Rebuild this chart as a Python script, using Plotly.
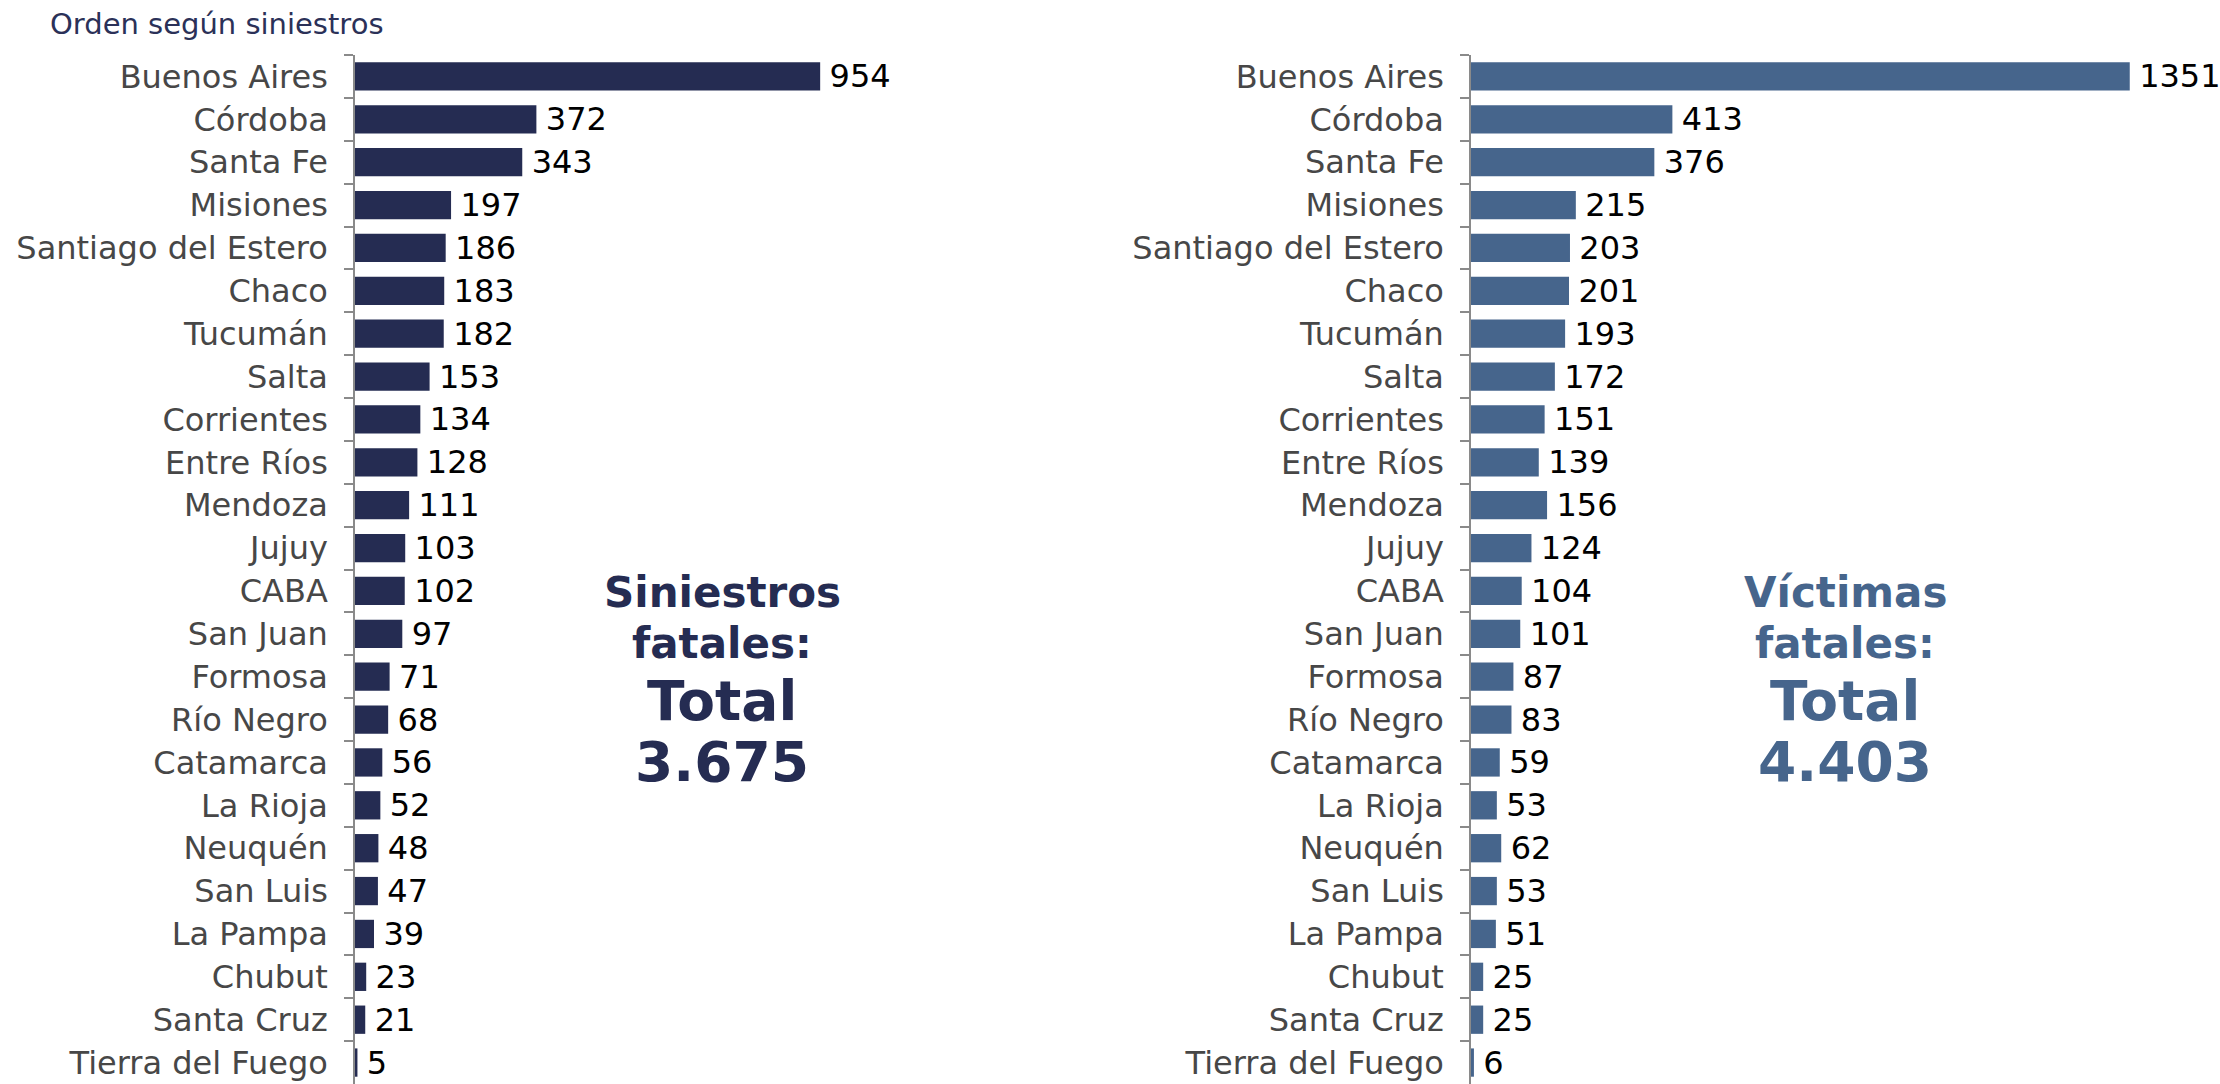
import plotly.graph_objects as go

provincias = ["Buenos Aires", "Córdoba", "Santa Fe", "Misiones", "Santiago del Estero",
              "Chaco", "Tucumán", "Salta", "Corrientes", "Entre Ríos", "Mendoza", "Jujuy",
              "CABA", "San Juan", "Formosa", "Río Negro", "Catamarca", "La Rioja",
              "Neuquén", "San Luis", "La Pampa", "Chubut", "Santa Cruz", "Tierra del Fuego"]
siniestros = [954, 372, 343, 197, 186, 183, 182, 153, 134, 128, 111, 103,
              102, 97, 71, 68, 56, 52, 48, 47, 39, 23, 21, 5]
victimas = [1351, 413, 376, 215, 203, 201, 193, 172, 151, 139, 156, 124,
            104, 101, 87, 83, 59, 53, 62, 53, 51, 25, 25, 6]

titulo = "Orden según siniestros"
texto_izq = ["Siniestros", "fatales:", "Total", "3.675"]
texto_der = ["Víctimas", "fatales:", "Total", "4.403"]

C_IZQ = "#252C52"
C_DER = "#46658C"
FONT = "DejaVu Sans"
W, H = 2220, 1084
ML, MT = 355, 55

fig = go.Figure()
for vals, color, xa, ya in [(siniestros, C_IZQ, "x", "y"), (victimas, C_DER, "x2", "y2")]:
    fig.add_trace(go.Bar(y=provincias, x=vals, orientation="h", marker_color=color,
                         marker_line_width=0, texttemplate="\u2009%{x}",
                         textposition="outside", constraintext="none", cliponaxis=False,
                         textfont=dict(family=FONT, size=32, color="#000000"),
                         hoverinfo="skip", xaxis=xa, yaxis=ya))

pw = W - ML  # plot width in px
def dom(a, b):
    return [(a - ML) / pw, (b - ML) / pw]

scale = 0.4876  # px per unit
left_end, right_start = 1000, 1471
yax = dict(type="category", categoryorder="array", categoryarray=provincias,
           autorange="reversed", showline=True, linecolor="#8A8A8A", linewidth=1.5,
           ticks="outside", ticklen=9, tickcolor="#8A8A8A", tickwidth=1.5,
           tickson="boundaries", ticklabelstandoff=19,
           tickfont=dict(family=FONT, size=32, color="#474747"),
           showgrid=False, zeroline=False, automargin=False)

fig.update_layout(
    width=W, height=H,
    margin=dict(l=ML, r=0, t=MT, b=0),
    paper_bgcolor="white", plot_bgcolor="white",
    showlegend=False, bargap=0.34,
    font=dict(family=FONT),
    title=dict(text=titulo, x=50 / W, xanchor="left", xref="container",
               y=1 - 24 / H, yanchor="middle", yref="container",
               font=dict(family=FONT, size=29, color="#2B3158")),
    xaxis=dict(domain=dom(ML, left_end), range=[0, (left_end - ML) / scale],
               visible=False, fixedrange=True),
    yaxis=dict(anchor="x", **yax),
    xaxis2=dict(domain=dom(right_start, W), range=[0, (W - right_start) / scale],
                visible=False, fixedrange=True),
    yaxis2=dict(anchor="x2", **yax),
)

def add_block(xc, lines, color):
    ys = [592, 643, 701, 762]
    sizes = [42, 42, 55, 55]
    ph = H - MT
    for t, yy, s in zip(lines, ys, sizes):
        fig.add_annotation(text="<b>" + t + "</b>", xref="paper", yref="paper",
                           x=(xc - ML) / pw, y=(H - yy) / ph, xanchor="center",
                           yanchor="middle", showarrow=False,
                           font=dict(family=FONT, size=s, color=color))

add_block(722, texto_izq, C_IZQ)
add_block(1845, texto_der, C_DER)

fig.write_html("out.html", config={"displayModeBar": False},
               post_script="document.body.style.margin='0';")
